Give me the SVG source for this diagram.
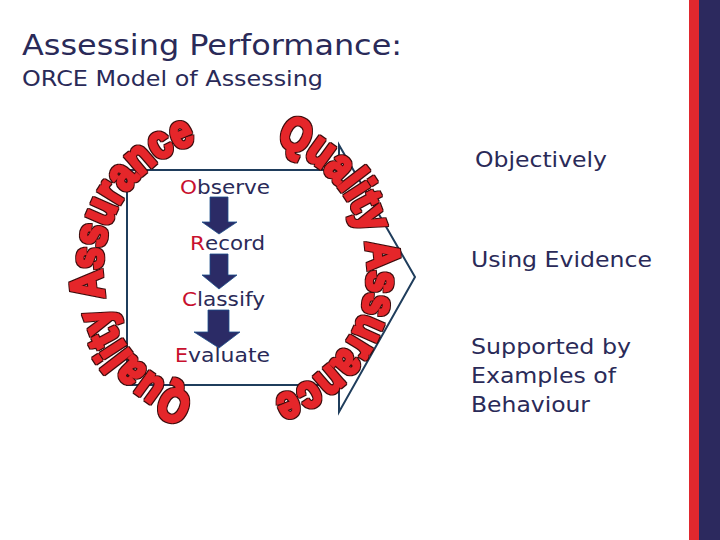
<svg xmlns="http://www.w3.org/2000/svg" xmlns:xlink="http://www.w3.org/1999/xlink" width="720" height="540" viewBox="0 0 720 540">
<style>
.t{font-family:"DejaVu Sans","Liberation Sans",sans-serif;fill:#2a2a58}
.s{font-size:19px}
.r{fill:#c8102e}
.wa{font-family:"Liberation Sans","Arial",sans-serif;font-weight:bold;font-size:46px;fill:#e5262b;stroke:#e5262b;stroke-width:3;stroke-linejoin:miter;filter:url(#outline)}
.arr{fill:#2b2b66;stroke:#1c4f8a;stroke-width:0.8}
</style>
<defs>
<path id="arcL" d="M193.9,396.5 A133,133 0 0 1 196.1,142.8"/>
<path id="arcR" d="M276.1,143.5 A133,133 0 0 1 273.9,397.2"/>
<filter id="outline" filterUnits="userSpaceOnUse" x="0" y="0" width="720" height="540">
<feMorphology in="SourceAlpha" operator="dilate" radius="1.1" result="d"/>
<feFlood flood-color="#3a0c0c"/>
<feComposite in2="d" operator="in" result="o"/>
<feMerge><feMergeNode in="o"/><feMergeNode in="SourceGraphic"/></feMerge>
</filter>
</defs>
<rect width="720" height="540" fill="#ffffff"/>
<rect x="689" y="0" width="10" height="540" fill="#e0282e"/>
<rect x="699" y="0" width="21" height="540" fill="#2c295e"/>
<g id="title">
<text class="t" x="22" y="55" font-size="28" textLength="380" lengthAdjust="spacingAndGlyphs">Assessing Performance:</text>
<text class="t" x="22" y="86" font-size="21" textLength="301" lengthAdjust="spacingAndGlyphs">ORCE Model of Assessing</text>
</g>
<g id="frame">
<path d="M127,170 H339 V145 L415,277 L339,412 V385 H127 Z" fill="none" stroke="#1f3d5c" stroke-width="2"/>
</g>
<g id="wordart">
<text class="wa"><textPath xlink:href="#arcL" href="#arcL" textLength="336" lengthAdjust="spacingAndGlyphs">Quality Assurance</textPath></text>
<text class="wa"><textPath xlink:href="#arcR" href="#arcR" textLength="336" lengthAdjust="spacingAndGlyphs">Quality Assurance</textPath></text>
</g>
<g id="observe">
<text class="t s r" x="180" y="194" textLength="17" lengthAdjust="spacingAndGlyphs">O</text>
<text class="t s" x="197" y="194" textLength="73" lengthAdjust="spacingAndGlyphs">bserve</text>
</g>
<g id="record">
<text class="t s r" x="190" y="250" textLength="15" lengthAdjust="spacingAndGlyphs">R</text>
<text class="t s" x="205" y="250" textLength="60" lengthAdjust="spacingAndGlyphs">ecord</text>
</g>
<g id="classify">
<text class="t s r" x="182" y="306" textLength="15" lengthAdjust="spacingAndGlyphs">C</text>
<text class="t s" x="197" y="306" textLength="68" lengthAdjust="spacingAndGlyphs">lassify</text>
</g>
<g id="evaluate">
<text class="t s r" x="175" y="362" textLength="13" lengthAdjust="spacingAndGlyphs">E</text>
<text class="t s" x="188" y="362" textLength="82" lengthAdjust="spacingAndGlyphs">valuate</text>
</g>
<g id="connectors">
<path class="arr" d="M210,197 H228 V222 H237 L219,234 L202,222 H210 Z"/>
<path class="arr" d="M210,254 H228 V275 H237 L219,289 L202,275 H210 Z"/>
<path class="arr" d="M208,310 H229 V332 H240 L219,348 L194,332 H208 Z"/>
</g>
<g id="objectively"><text class="t" x="475" y="167" font-size="22" textLength="132" lengthAdjust="spacingAndGlyphs">Objectively</text></g>
<g id="evidence"><text class="t" x="471" y="267" font-size="22" textLength="181" lengthAdjust="spacingAndGlyphs">Using Evidence</text></g>
<g id="supported">
<text class="t" x="471" y="354" font-size="22" textLength="160" lengthAdjust="spacingAndGlyphs">Supported by</text>
<text class="t" x="471" y="383" font-size="22" textLength="145" lengthAdjust="spacingAndGlyphs">Examples of</text>
<text class="t" x="471" y="412" font-size="22" textLength="119" lengthAdjust="spacingAndGlyphs">Behaviour</text>
</g>
</svg>
